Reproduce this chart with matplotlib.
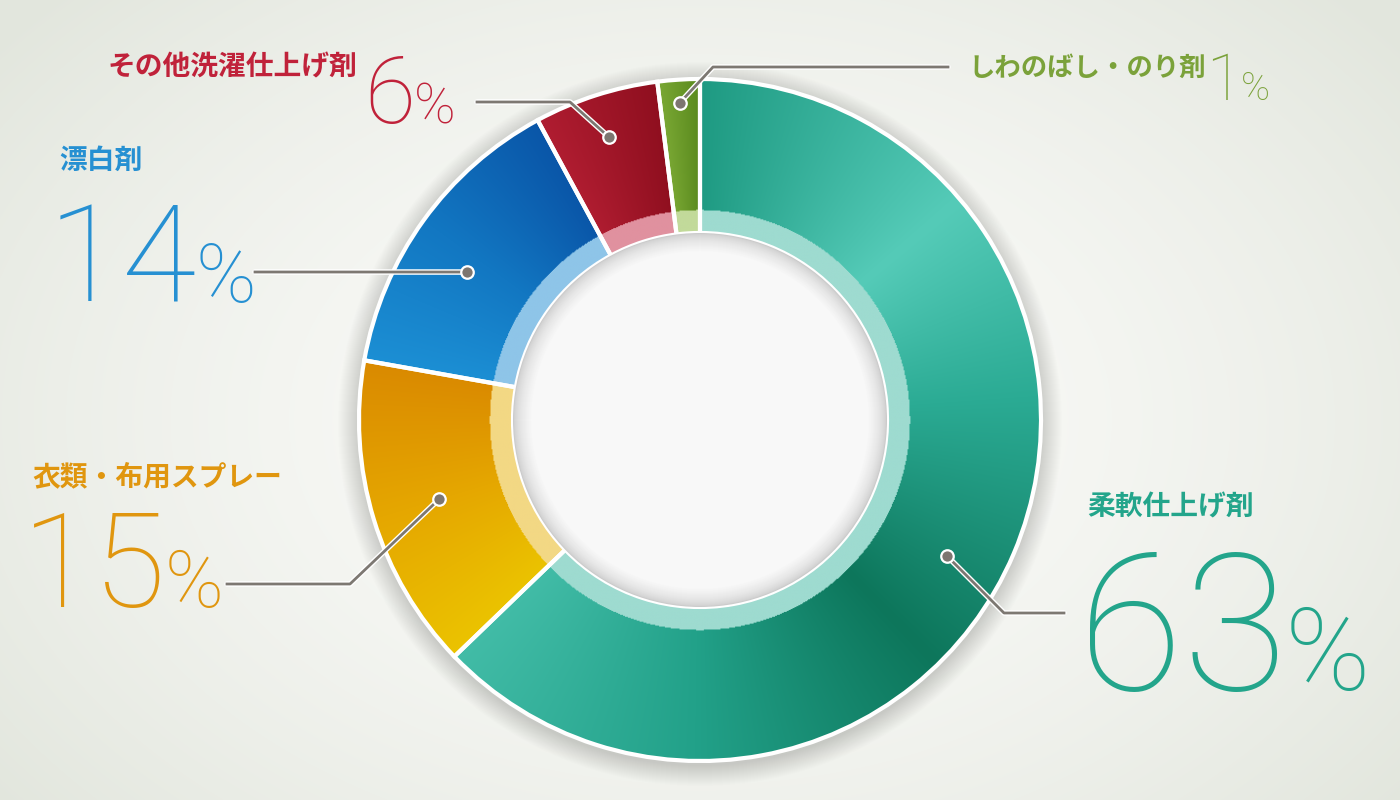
import numpy as np
import matplotlib.pyplot as plt
from matplotlib.patches import Circle
from matplotlib.colors import to_rgb

categories = ['柔軟仕上げ剤', '衣類・布用スプレー', '漂白剤', 'その他洗濯仕上げ剤', 'しわのばし・のり剤']
pct_labels = ['63', '15', '14', '6', '1']
# slice sizes as drawn in the picture (the 1% slice is drawn a bit wider)
shares = [62.8, 15.0, 14.3, 5.9, 2.0]

text_colors = ['#23a58b', '#e0960f', '#2690d2', '#c0223a', '#7ba23a']
band_colors = ['#9edbd0', '#f3d884', '#8ec5e8', '#e0919f', '#c2da9a']
grad_stops = [
    [(0.0, '#1e9a82'), (0.22, '#55cbb8'), (0.38, '#2bab94'), (0.6, '#0d765b'), (0.8, '#22a189'), (1.0, '#42bca7')],
    [(0.0, '#ebc300'), (0.5, '#e5a700'), (1.0, '#da8a00')],
    [(0.0, '#1c8fd4'), (0.5, '#1277c2'), (1.0, '#0a56a8')],
    [(0.0, '#b01d31'), (1.0, '#8f0f1f')],
    [(0.0, '#7aa834'), (1.0, '#5a8a1e')],
]

W, H = 1400, 800
cx, cy = 700, H - 420
R_OUT, R_BAND, R_HOLE = 341, 210, 187

jp_font = ['Noto Sans CJK JP', 'DejaVu Sans']
num_font = ['Roboto', 'DejaVu Sans']

fig = plt.figure(figsize=(14, 8), dpi=100)
ax = fig.add_axes([0, 0, 1, 1])

# background: soft radial gradient
yy, xx = np.mgrid[0:H, 0:W]
d = np.sqrt(((xx - 700) / 900.0) ** 2 + ((yy - 380) / 620.0) ** 2)
t = np.clip(d, 0, 1) ** 1.6
c0, c1 = np.array(to_rgb('#fbfbf9')), np.array(to_rgb('#e2e6dd'))
bg = c0[None, None, :] * (1 - t[..., None]) + c1[None, None, :] * t[..., None]
ax.imshow(bg, extent=(0, W, 0, H), origin='lower', zorder=0)

# drop shadow behind the ring
for k in range(1, 22):
    ax.add_patch(Circle((cx, cy - 4), R_OUT + k, color='black', alpha=0.007, lw=0, zorder=1))

wedges, _ = ax.pie(shares, startangle=90, counterclock=False, radius=R_OUT, center=(cx, cy),
                   colors=['none'] * len(shares), frame=True,
                   wedgeprops=dict(width=R_OUT - R_HOLE, edgecolor='white', linewidth=3, zorder=3))

# gradient fill of each slice, clipped to the wedge
n = 700
gy, gx = np.mgrid[0:n, 0:n]
px = cx - R_OUT + (gx + 0.5) * (2 * R_OUT / n)
py = cy - R_OUT + (gy + 0.5) * (2 * R_OUT / n)
ang = np.degrees(np.arctan2(py - cy, px - cx))
rad = np.hypot(px - cx, py - cy)
for w, stops, band in zip(wedges, grad_stops, band_colors):
    span = w.theta2 - w.theta1
    tt = np.clip(((w.theta2 - ang) % 360) / span, 0, 1)
    pos = [s[0] for s in stops]
    cols = np.array([to_rgb(s[1]) for s in stops])
    img = np.stack([np.interp(tt, pos, cols[:, i]) for i in range(3)], axis=-1)
    img[rad < R_BAND] = to_rgb(band)
    im = ax.imshow(img, extent=(cx - R_OUT, cx + R_OUT, cy - R_OUT, cy + R_OUT),
                   origin='lower', zorder=2, interpolation='bilinear')
    im.set_clip_path(w)

# center hole with inner shadow
ax.add_patch(Circle((cx, cy), R_HOLE, color='#cbcbcb', lw=0, zorder=4))
steps = 18
for k in range(1, steps + 1):
    f = (k / steps) ** 0.6
    col = np.array(to_rgb('#cbcbcb')) * (1 - f) + np.array(to_rgb('#f8f8f8')) * f
    ax.add_patch(Circle((cx, cy), R_HOLE - k, color=col, lw=0, zorder=4))

ax.set_xlim(0, W)
ax.set_ylim(0, H)
ax.set_aspect('auto')
ax.axis('off')

# leader lines
dot_geom = [(282, -5.8), (273, 0), (276, 3.4), (297, 0), (318, 0)]
leader_path = [[(1004, 613), (1064, 613)], [(350, 584), (227, 584)], [(255, 272)],
               [(570, 102), (477, 102)], [(713, 67), (948, 67)]]
for w, (r, dth), path in zip(wedges, dot_geom, leader_path):
    a = np.radians((w.theta1 + w.theta2) / 2 + dth)
    dx, dy = cx + r * np.cos(a), cy + r * np.sin(a)
    xs = [dx] + [p[0] for p in path]
    ys = [dy] + [H - p[1] for p in path]
    ax.plot(xs, ys, color='white', lw=4, solid_capstyle='round', zorder=5)
    ax.plot(xs, ys, color='#7d7872', lw=2, zorder=5)
    ax.plot(dx, dy, 'o', ms=9, color='#7d7670', mec='white', mew=1.6, zorder=6)

# labels
label_pos = [(1087, 507), (32, 477), (59, 161), (108, 67), (968, 68)]
label_size = [20, 20, 20, 20, 19]
num_pos = [(1078, 690), (22, 607), (48, 302), (364, 123), (1206, 100)]
num_size = [138, 95, 98, 67, 47]

renderer = fig.canvas.get_renderer()
for cat, pct, col, (lx, ly), ls, (nx, ny), ns in zip(categories, pct_labels, text_colors,
                                                      label_pos, label_size, num_pos, num_size):
    ax.text(lx, H - ly, cat, fontsize=ls, color=col, family=jp_font, fontweight='bold',
            ha='left', va='center', zorder=6)
    tx = ax.text(nx, H - ny, pct, fontsize=ns, color=col, family=num_font, fontweight=100,
                 ha='left', va='baseline', zorder=6)
    bb = tx.get_window_extent(renderer)
    x_end = ax.transData.inverted().transform((bb.x1, bb.y0))[0]
    ax.text(x_end - ns * 0.02, H - ny, '%', fontsize=ns * 0.6, color=col, family=num_font,
            fontweight=100, ha='left', va='baseline', zorder=6)

fig.savefig('out.png', dpi=100)
